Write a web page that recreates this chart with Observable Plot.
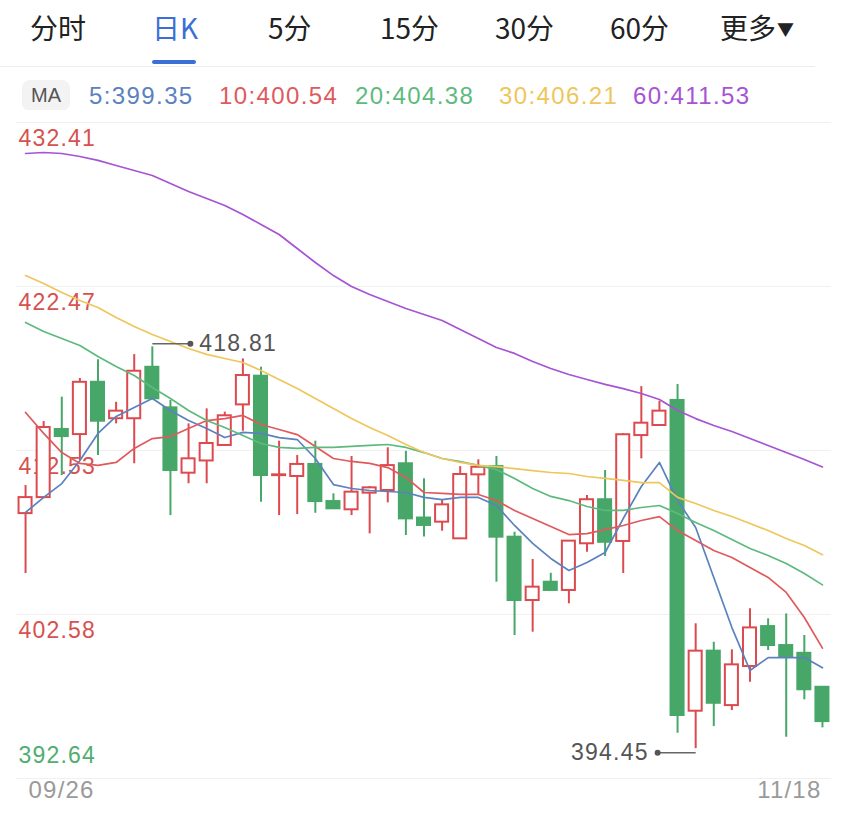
<!DOCTYPE html>
<html>
<head>
<meta charset="utf-8">
<script src="https://cdn.jsdelivr.net/npm/d3@7"></script>
<script src="https://cdn.jsdelivr.net/npm/@observablehq/plot@0.6"></script>
<style>
  html, body { margin: 0; padding: 0; background: #fff; }
  body { width: 850px; height: 816px; position: relative; overflow: hidden;
         font-family: "Noto Sans CJK SC", "Liberation Sans", sans-serif; }
  .tab { position: absolute; top: 7px; font-size: 28px; line-height: 40px; color: #222; white-space: nowrap; }
  .tab.active { color: #3b6fd6; }
  .tri { font-size: 17px; vertical-align: 3px; margin-left: 1px; }
  #underline { position: absolute; left: 152px; top: 60px; width: 44px; height: 4px; background: #3b6fd6; border-radius: 2px; }
  #sep { position: absolute; left: 0; top: 66px; width: 815px; height: 1px; background: #ececec; }
  #mapill { position: absolute; left: 22px; top: 80px; width: 48px; height: 31px; background: #f3f3f3; border-radius: 8px;
            font-family: "Liberation Sans", Arial, sans-serif; font-size: 20px; line-height: 31px; text-align: center; color: #555; }
  .ma { position: absolute; top: 80px; line-height: 31px; font-family: "Liberation Sans", Arial, sans-serif; font-size: 24px; letter-spacing: 1.4px; white-space: nowrap; }
  #chart { position: absolute; left: 0; top: 110px; }
  #chart svg text { letter-spacing: 1.2px; }
</style>
</head>
<body>
<div id="tabs"></div>
<div id="underline"></div>
<div id="sep"></div>
<div id="mapill">MA</div>
<div id="legend"></div>
<div id="chart"></div>
<script>
// ---------- data ----------
const tabs = ["分时", "日K", "5分", "15分", "30分", "60分", "更多"];
const activeTab = "日K";
const dateLabels = ["09/26", "11/18"];
const yTicks = [432.41, 422.47, 412.53, 402.58, 392.64];

const opens  = [408.70, 409.67, 413.80, 413.49, 416.66, 414.45, 414.45, 417.57, 415.11, 411.15, 411.89, 412.83, 415.29, 417.03, 411.00, 410.95, 411.68, 409.43, 408.93, 409.94, 410.10, 411.72, 408.43, 408.18, 407.17, 411.05, 411.55, 407.27, 403.43, 404.54, 404.04, 406.87, 409.54, 407.01, 413.43, 414.04, 415.56, 396.72, 400.36, 397.06, 399.43, 401.85, 400.70, 400.23, 398.17];
const highs  = [410.40, 414.28, 415.76, 416.89, 418.02, 415.45, 418.34, 418.81, 415.56, 414.14, 415.05, 414.85, 418.08, 417.57, 413.09, 412.22, 413.09, 409.90, 412.16, 410.34, 412.69, 412.48, 410.81, 409.49, 411.55, 411.96, 412.16, 407.57, 405.92, 405.08, 407.03, 409.80, 411.31, 413.55, 416.40, 415.51, 416.53, 402.02, 400.90, 400.44, 402.93, 402.32, 402.62, 401.31, 398.17];
const lows   = [405.07, 409.60, 411.01, 411.92, 412.22, 414.14, 411.72, 415.60, 408.58, 410.51, 410.51, 412.77, 413.69, 409.39, 408.58, 408.64, 408.72, 408.95, 408.58, 407.47, 409.35, 407.37, 407.28, 407.63, 407.17, 409.80, 404.54, 401.31, 401.51, 404.04, 403.23, 406.36, 406.10, 405.07, 412.02, 414.04, 395.38, 394.45, 395.79, 396.76, 398.48, 400.40, 395.14, 397.41, 395.71];
const closes = [409.67, 413.92, 413.37, 416.66, 414.30, 414.91, 417.33, 415.66, 411.31, 412.02, 412.95, 414.63, 417.07, 411.01, 411.05, 411.68, 409.43, 408.99, 410.00, 410.26, 411.61, 408.38, 407.98, 409.23, 411.07, 411.51, 407.27, 403.43, 404.24, 404.04, 407.03, 409.54, 406.96, 413.48, 414.18, 414.91, 396.46, 400.36, 397.20, 399.53, 401.77, 400.70, 400.03, 398.02, 396.09];

const ma5  = [408.77, 409.68, 410.52, 411.92, 413.56, 414.59, 415.13, 415.68, 414.95, 414.34, 413.86, 413.31, 413.62, 413.56, 413.31, 413.19, 412.04, 410.46, 410.22, 410.10, 410.04, 409.98, 409.68, 409.55, 409.68, 409.68, 409.19, 407.98, 406.89, 405.98, 405.25, 405.73, 406.34, 408.40, 410.34, 411.80, 409.49, 407.86, 404.83, 401.79, 399.19, 399.97, 399.97, 399.97, 399.35];
const ma10 = [414.83, 413.56, 412.40, 411.74, 411.62, 411.80, 412.65, 413.25, 413.37, 413.86, 414.34, 414.46, 414.65, 414.10, 413.80, 413.49, 412.77, 412.04, 411.86, 411.74, 411.49, 410.89, 409.98, 409.92, 409.86, 409.86, 409.49, 408.89, 408.40, 407.92, 407.43, 407.49, 407.73, 407.98, 408.28, 408.52, 407.67, 407.07, 406.46, 406.04, 405.43, 404.83, 403.92, 402.40, 400.54];
const ma20 = [420.29, 419.74, 419.31, 418.89, 418.22, 417.62, 417.07, 416.34, 415.68, 414.95, 414.34, 413.92, 413.43, 412.95, 412.71, 412.65, 412.71, 412.71, 412.77, 412.83, 412.89, 412.71, 412.40, 412.04, 411.86, 411.62, 411.37, 410.83, 410.22, 409.74, 409.49, 409.13, 408.89, 408.89, 409.07, 409.19, 408.71, 408.16, 407.67, 407.13, 406.58, 406.16, 405.67, 405.07, 404.38];
const ma30 = [423.13, 422.65, 422.10, 421.62, 421.19, 420.59, 420.04, 419.56, 419.13, 418.71, 418.35, 418.10, 417.86, 417.38, 416.83, 416.28, 415.68, 415.07, 414.46, 413.92, 413.43, 412.89, 412.40, 412.04, 411.80, 411.62, 411.55, 411.43, 411.31, 411.19, 411.13, 410.95, 410.83, 410.71, 410.58, 410.58, 409.68, 409.31, 408.89, 408.52, 408.10, 407.67, 407.19, 406.77, 406.21];
const ma60 = [430.53, 430.59, 430.53, 430.35, 430.11, 429.80, 429.50, 429.20, 428.71, 428.23, 427.80, 427.38, 426.83, 426.23, 425.62, 424.77, 423.92, 423.13, 422.47, 421.98, 421.56, 421.13, 420.77, 420.41, 419.86, 419.31, 418.77, 418.41, 417.92, 417.50, 417.13, 416.83, 416.53, 416.28, 415.98, 415.62, 414.95, 414.46, 414.04, 413.68, 413.25, 412.83, 412.40, 411.98, 411.53];

const maPeriods = [5, 10, 20, 30, 60];
const maValues  = [ma5, ma10, ma20, ma30, ma60];
const maColors  = ["#5b82be", "#e05a5d", "#5dba7e", "#efc65c", "#a653d4"];

// ---------- header (HTML) ----------
const tabLeft = [30, 152, 268, 380, 495, 610, 720];
const tabsEl = document.getElementById("tabs");
tabs.forEach((t, k) => {
  const d = document.createElement("div");
  d.className = "tab" + (t === activeTab ? " active" : "");
  d.style.left = tabLeft[k] + "px";
  d.innerHTML = t + (t === "更多" ? '<span class="tri">▼</span>' : "");
  tabsEl.appendChild(d);
});
const legLeft = [89, 219, 355, 499, 633];
const legEl = document.getElementById("legend");
maPeriods.forEach((p, k) => {
  const d = document.createElement("div");
  d.className = "ma";
  d.style.left = legLeft[k] + "px";
  d.style.color = maColors[k];
  d.textContent = p + ":" + maValues[k][maValues[k].length - 1].toFixed(2);
  legEl.appendChild(d);
});

// ---------- chart (Plot) ----------
const RED = "#dc4a4f", GREEN = "#47a768";
const n = closes.length;
const candles = opens.map((o, i) => ({i, o, h: highs[i], l: lows[i], c: closes[i], up: closes[i] >= o}));
const upC = candles.filter(d => d.up), dnC = candles.filter(d => !d.up);
const hw = 0.36;
const iMax = highs.indexOf(d3.max(highs));
const iMin = lows.indexOf(d3.min(lows));
const lead = 2.1;
const annHigh = [{i: iMax, y: highs[iMax]}];
const annLow = [{i: iMin, y: lows[iMin]}];

const lineMarks = maPeriods.map((p, k) =>
  Plot.line(maValues[k].map((v, i) => ({i, v})), {x: "i", y: "v", stroke: maColors[k], strokeWidth: 1.7, curve: "linear"})
);

const chart = Plot.plot({
  width: 850,
  height: 706,
  marginTop: 12,
  marginBottom: 38,
  marginLeft: 16,
  marginRight: 19,
  x: {type: "linear", domain: [-0.5, n - 0.5], axis: null},
  y: {domain: [yTicks[yTicks.length - 1], yTicks[0]], axis: null},
  style: {fontFamily: "'Liberation Sans', Arial, sans-serif", background: "white", overflow: "visible"},
  marks: [
    Plot.ruleY(yTicks, {stroke: "#f0f0f0", strokeWidth: 1}),
    Plot.text(yTicks.slice(0, 4), {y: d => d, frameAnchor: "left", text: d => d.toFixed(2), textAnchor: "start", dx: 2, dy: 16, fill: "#d6514f", fontSize: 23}),
    Plot.text(yTicks.slice(4), {y: d => d, frameAnchor: "left", text: d => d.toFixed(2), textAnchor: "start", dx: 2, dy: -23, fill: "#4fae70", fontSize: 23}),
    // wicks
    Plot.ruleX(candles, {x: "i", y1: "h", y2: d => Math.max(d.o, d.c), stroke: d => d.up ? RED : GREEN, strokeWidth: 2}),
    Plot.ruleX(candles, {x: "i", y1: d => Math.min(d.o, d.c), y2: "l", stroke: d => d.up ? RED : GREEN, strokeWidth: 2}),
    // bodies
    Plot.rect(upC, {x1: d => d.i - hw, x2: d => d.i + hw, y1: "o", y2: "c", fill: "white", stroke: RED, strokeWidth: 2}),
    Plot.rect(dnC, {x1: d => d.i - hw, x2: d => d.i + hw, y1: "o", y2: "c", fill: GREEN, stroke: GREEN, strokeWidth: 2}),
    // moving averages
    ...lineMarks,
    // max / min annotations
    Plot.link(annHigh, {x1: "i", x2: d => d.i + lead, y1: "y", y2: "y", stroke: "#666", strokeWidth: 1.5, dy: -3}),
    Plot.dot(annHigh, {x: d => d.i + lead, y: "y", r: 3, fill: "#555", dy: -3}),
    Plot.text(annHigh, {x: d => d.i + lead, y: "y", text: d => d.y.toFixed(2), textAnchor: "start", dx: 9, dy: -3, fill: "#555", fontSize: 23}),
    Plot.link(annLow, {x1: "i", x2: d => d.i - lead, y1: "y", y2: "y", stroke: "#666", strokeWidth: 1.5, dy: 4}),
    Plot.dot(annLow, {x: d => d.i - lead, y: "y", r: 3, fill: "#555", dy: 4}),
    Plot.text(annLow, {x: d => d.i - lead, y: "y", text: d => d.y.toFixed(2), textAnchor: "end", dx: -9, dy: 4, fill: "#555", fontSize: 23}),
    // date labels
    Plot.text([dateLabels[0]], {x: () => 0, frameAnchor: "bottom", text: d => d, textAnchor: "start", dx: 3, dy: 19, fill: "#9a9a9a", fontSize: 24}),
    Plot.text([dateLabels[1]], {x: () => n - 1, frameAnchor: "bottom", text: d => d, textAnchor: "end", dx: -1, dy: 19, fill: "#9a9a9a", fontSize: 24})
  ]
});
document.getElementById("chart").appendChild(chart);
</script>
</body>
</html>
